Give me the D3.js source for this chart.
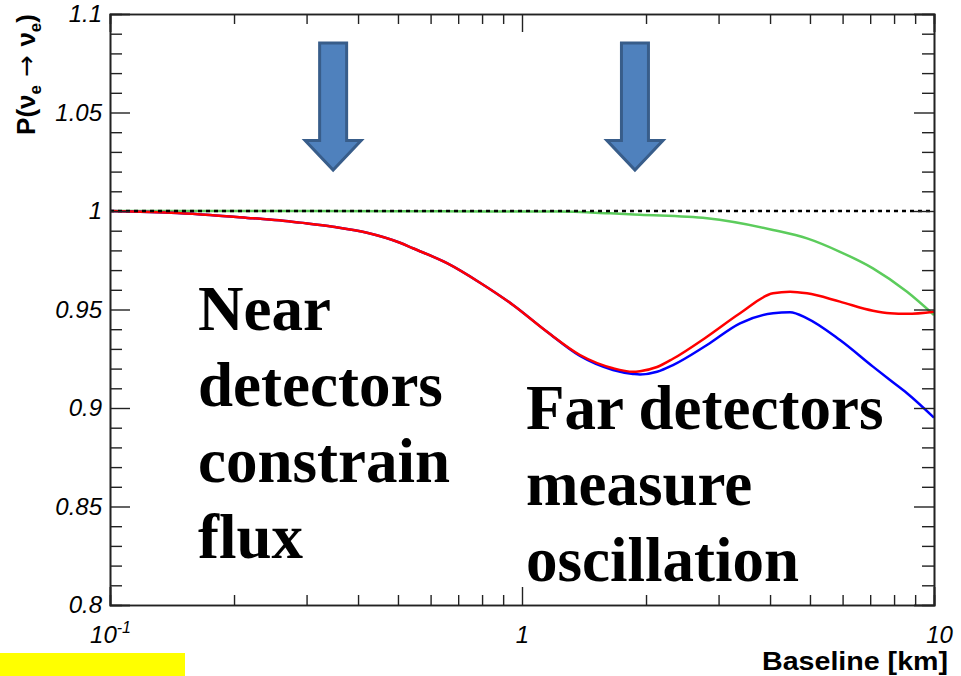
<!DOCTYPE html>
<html>
<head>
<meta charset="utf-8">
<script src="https://cdn.jsdelivr.net/npm/d3@7"></script>
<style>
  html, body { margin: 0; padding: 0; background: #fff; }
  svg { display: block; }
</style>
</head>
<body>
<script>
// Survival probability vs. baseline (km)
const baselineKm = [0.1, 0.1455, 0.1749, 0.2224, 0.263, 0.2891, 0.3477, 0.4206, 0.5058, 0.5435, 0.6576, 0.7908, 0.951, 1.15, 1.383, 1.663, 1.86, 1.934, 2.127, 2.325, 2.812, 3.382, 4.067, 4.472, 4.918, 5.912, 7.109, 7.82, 8.601, 10];
const probBlue  = [1.0, 0.999, 0.998, 0.9963, 0.9951, 0.9941, 0.992, 0.989, 0.9839, 0.9811, 0.9735, 0.9636, 0.9523, 0.9387, 0.9264, 0.9193, 0.9173, 0.9170, 0.9184, 0.9218, 0.932, 0.943, 0.9481, 0.9486, 0.9455, 0.9345, 0.921, 0.9142, 0.9075, 0.8951];
const probRed   = [1.0, 0.999, 0.998, 0.9963, 0.9951, 0.9941, 0.992, 0.989, 0.9839, 0.9811, 0.9735, 0.9636, 0.9523, 0.9387, 0.9269, 0.9202, 0.9184, 0.9187, 0.9208, 0.925, 0.9362, 0.9481, 0.9582, 0.959, 0.9582, 0.954, 0.9494, 0.9481, 0.9478, 0.9489];
const greenKm   = [0.1, 0.3, 0.5, 0.8, 1.216, 1.636, 1.934, 2.812, 4.067, 4.918, 5.912, 7.109, 8.601, 10];
const probGreen = [1.0, 1.0, 0.9999, 0.9998, 0.9997, 0.9988, 0.9981, 0.9963, 0.9904, 0.9861, 0.9793, 0.9709, 0.959, 0.9472];

const yMajorTicks = [0.8, 0.85, 0.9, 0.95, 1, 1.05, 1.1];
const yMajorLabels = ["0.8", "0.85", "0.9", "0.95", "1", "1.05", "1.1"];
const xMajorTicks = [0.1, 1, 10];
const xMinorTicks = [0.2, 0.3, 0.4, 0.5, 0.6, 0.7, 0.8, 0.9, 2, 3, 4, 5, 6, 7, 8, 9];

// Arrow markers (baseline in km where each arrow points)
const arrowBaselines = [0.348, 1.88];

const W = 961, H = 676;
const m = { left: 110, right: 934, top: 14, bottom: 605 };

const svg = d3.select("body").append("svg").attr("width", W).attr("height", H);
svg.append("rect").attr("width", W).attr("height", H).attr("fill", "#fff");

const x = d3.scaleLog().domain([0.1, 10]).range([m.left, m.right]);
const y = d3.scaleLinear().domain([0.8, 1.1]).range([m.bottom, m.top]);

const yMinorTicks = d3.range(80, 111).map(d => d / 100).filter(v => !yMajorTicks.some(t => Math.abs(t - v) < 1e-9));

// --- curves
const line = d3.line().x(d => x(d[0])).y(d => y(d[1])).curve(d3.curveMonotoneX);
const plot = svg.append("g");
plot.append("path").datum(greenKm.map((k, i) => [k, probGreen[i]]))
  .attr("d", line).attr("fill", "none").attr("stroke", "#5ccc5c").attr("stroke-width", 2.5);
plot.append("path").datum(baselineKm.map((k, i) => [k, probBlue[i]]))
  .attr("d", line).attr("fill", "none").attr("stroke", "#0000ff").attr("stroke-width", 2.5);
plot.append("path").datum(baselineKm.map((k, i) => [k, probRed[i]]))
  .attr("d", line).attr("fill", "none").attr("stroke", "#ff0000").attr("stroke-width", 2.5);

// reference line at P = 1
plot.append("line")
  .attr("x1", x(0.1)).attr("x2", x(10)).attr("y1", y(1)).attr("y2", y(1))
  .attr("stroke", "#000").attr("stroke-width", 2.5).attr("stroke-dasharray", "4,4");

// --- axes (ticks on all four sides, pointing inward)
const axisColor = "#222";
function styleAxis(g) {
  g.select(".domain").attr("stroke", axisColor).attr("stroke-width", 1.6);
  g.selectAll(".tick line").attr("stroke", axisColor).attr("stroke-width", 1.4);
}

// left
svg.append("g").attr("transform", `translate(${m.left},0)`)
  .call(d3.axisLeft(y).tickValues(yMinorTicks).tickSize(-12).tickFormat(""))
  .call(styleAxis);
const yl = svg.append("g").attr("transform", `translate(${m.left},0)`)
  .call(d3.axisLeft(y).tickValues(yMajorTicks).tickSize(-20).tickPadding(8)
    .tickFormat((d, i) => yMajorLabels[i]))
  .call(styleAxis);
yl.selectAll("text").attr("font-family", "Liberation Sans, Arial, sans-serif")
  .attr("font-style", "italic").attr("font-size", 24).attr("fill", "#000");

// right
svg.append("g").attr("transform", `translate(${m.right},0)`)
  .call(d3.axisRight(y).tickValues(yMinorTicks).tickSize(-12).tickFormat(""))
  .call(styleAxis);
svg.append("g").attr("transform", `translate(${m.right},0)`)
  .call(d3.axisRight(y).tickValues(yMajorTicks).tickSize(-20).tickFormat(""))
  .call(styleAxis);

// bottom
svg.append("g").attr("transform", `translate(0,${m.bottom})`)
  .call(d3.axisBottom(x).tickValues(xMinorTicks).tickSize(-10).tickFormat(""))
  .call(styleAxis);
const xb = svg.append("g").attr("transform", `translate(0,${m.bottom})`)
  .call(d3.axisBottom(x).tickValues(xMajorTicks).tickSize(-18).tickPadding(12).tickFormat(""))
  .call(styleAxis);
xb.selectAll(".tick").each(function (d) {
  const t = d3.select(this).append("text")
    .attr("y", 38).attr("x", d === 10 ? 5 : 0)
    .attr("text-anchor", "middle")
    .attr("font-family", "Liberation Sans, Arial, sans-serif")
    .attr("font-style", "italic").attr("font-size", 24).attr("fill", "#000");
  if (d === 0.1) {
    t.text("10");
    t.append("tspan").attr("dy", -10).attr("font-size", 16).text("-1");
  } else {
    t.text(d3.format("d")(d));
  }
});

// top
svg.append("g").attr("transform", `translate(0,${m.top})`)
  .call(d3.axisTop(x).tickValues(xMinorTicks).tickSize(-10).tickFormat(""))
  .call(styleAxis);
svg.append("g").attr("transform", `translate(0,${m.top})`)
  .call(d3.axisTop(x).tickValues(xMajorTicks).tickSize(-18).tickFormat(""))
  .call(styleAxis);

// --- axis titles
svg.append("text")
  .attr("transform", `translate(35,${m.top}) rotate(-90)`)
  .attr("text-anchor", "end")
  .attr("font-family", "Liberation Sans, Arial, sans-serif")
  .attr("font-weight", "bold").attr("font-size", 26).attr("fill", "#000")
  .call(t => {
    t.append("tspan").text("P(ν");
    t.append("tspan").attr("font-size", 17).attr("dy", 6).text("e");
    t.append("tspan").attr("dy", -6).attr("font-family", "DejaVu Sans, sans-serif").attr("font-weight", "normal").text(" → ");
    t.append("tspan").text("ν");
    t.append("tspan").attr("font-size", 17).attr("dy", 6).text("e");
    t.append("tspan").attr("dy", -6).text(")");
  });

svg.append("text")
  .attr("x", 948).attr("y", 670).attr("text-anchor", "end")
  .attr("font-family", "Liberation Sans, Arial, sans-serif")
  .attr("font-weight", "bold").attr("font-size", 25).attr("fill", "#000")
  .attr("textLength", 186).attr("lengthAdjust", "spacingAndGlyphs")
  .text("Baseline [km]");

// --- arrows
const arrowTop = 1.0853, arrowHeadTop = 1.0358, arrowTip = 1.0208;
arrowBaselines.forEach(b => {
  const cx = x(b);
  const sw = 13.5, hw = 28;
  const p = d3.path();
  p.moveTo(cx - sw, y(arrowTop));
  p.lineTo(cx + sw, y(arrowTop));
  p.lineTo(cx + sw, y(arrowHeadTop));
  p.lineTo(cx + hw, y(arrowHeadTop));
  p.lineTo(cx, y(arrowTip));
  p.lineTo(cx - hw, y(arrowHeadTop));
  p.lineTo(cx - sw, y(arrowHeadTop));
  p.closePath();
  svg.append("path").attr("d", p.toString())
    .attr("fill", "#4f81bd").attr("stroke", "#385d8a").attr("stroke-width", 3)
    .attr("stroke-linejoin", "miter");
});

// --- annotations
const serif = "Liberation Serif, 'Times New Roman', serif";
function block(lines, x0, y0, lh) {
  const t = svg.append("text").attr("font-family", serif).attr("font-weight", "bold")
    .attr("font-size", 63).attr("fill", "#000");
  lines.forEach((s, i) => t.append("tspan").attr("x", x0).attr("y", y0 + i * lh).text(s));
}
block(["Near", "detectors", "constrain", "flux"], 198, 330, 76);
block(["Far detectors", "measure", "oscillation"], 526, 429, 76);

// yellow strip at lower left
svg.append("rect").attr("x", 0).attr("y", 653).attr("width", 185).attr("height", 23).attr("fill", "#ffff00");
</script>
</body>
</html>
